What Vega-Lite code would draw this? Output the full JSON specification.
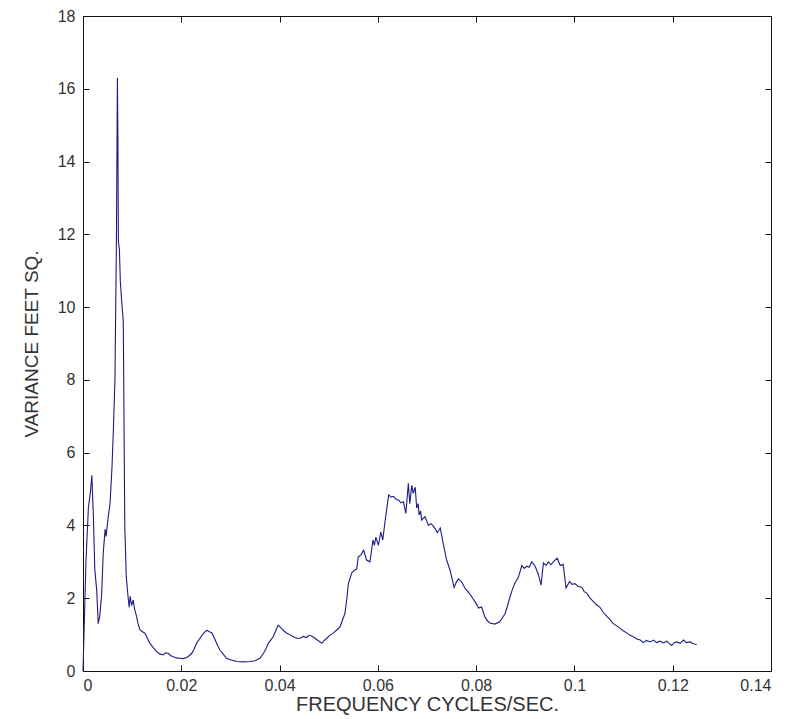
{
  "$schema": "https://vega.github.io/schema/vega-lite/v6.json",
  "width": 688,
  "height": 655,
  "autosize": "none",
  "padding": {"left": 83, "top": 16, "right": 20, "bottom": 48},
  "background": "white",
  "config": {
    "view": {"stroke": null},
    "axis": {
      "labelFont": "Liberation Sans",
      "titleFont": "Liberation Sans",
      "labelFontSize": 16,
      "titleFontSize": 19,
      "titleFontWeight": "normal",
      "labelColor": "#333333",
      "titleColor": "#333333",
      "domainColor": "#111111",
      "tickColor": "#111111",
      "grid": false
    }
  },
  "data": {
    "values": [
      {"f": 0.0, "v": 0.0}, {"f": 0.0002, "v": 1.0}, {"f": 0.0006, "v": 3.0}, {"f": 0.0011, "v": 4.5},
      {"f": 0.0015, "v": 4.9}, {"f": 0.0018, "v": 5.38}, {"f": 0.0021, "v": 4.3}, {"f": 0.0024, "v": 2.8},
      {"f": 0.0028, "v": 2.2}, {"f": 0.0031, "v": 1.3}, {"f": 0.0034, "v": 1.5}, {"f": 0.0038, "v": 2.1},
      {"f": 0.0041, "v": 3.2}, {"f": 0.0045, "v": 3.9}, {"f": 0.0047, "v": 3.7}, {"f": 0.0051, "v": 4.2},
      {"f": 0.0055, "v": 4.6}, {"f": 0.0059, "v": 5.6}, {"f": 0.0062, "v": 6.7}, {"f": 0.0065, "v": 8.0},
      {"f": 0.0068, "v": 11.8}, {"f": 0.0070, "v": 16.3}, {"f": 0.0071, "v": 14.7}, {"f": 0.0072, "v": 11.8},
      {"f": 0.0074, "v": 11.6}, {"f": 0.0076, "v": 10.7}, {"f": 0.0079, "v": 10.1}, {"f": 0.0082, "v": 9.6},
      {"f": 0.0085, "v": 4.0}, {"f": 0.0088, "v": 2.6}, {"f": 0.0092, "v": 2.0}, {"f": 0.0094, "v": 1.75},
      {"f": 0.0096, "v": 2.05}, {"f": 0.0099, "v": 1.8}, {"f": 0.0102, "v": 1.95}, {"f": 0.0105, "v": 1.7},
      {"f": 0.0109, "v": 1.5}, {"f": 0.0112, "v": 1.3}, {"f": 0.0116, "v": 1.13}, {"f": 0.0121, "v": 1.08},
      {"f": 0.0126, "v": 1.04}, {"f": 0.0131, "v": 0.9}, {"f": 0.0136, "v": 0.76}, {"f": 0.0143, "v": 0.64},
      {"f": 0.0150, "v": 0.53}, {"f": 0.0156, "v": 0.47}, {"f": 0.0163, "v": 0.44}, {"f": 0.0168, "v": 0.5},
      {"f": 0.0174, "v": 0.48}, {"f": 0.0179, "v": 0.42}, {"f": 0.0184, "v": 0.39}, {"f": 0.0190, "v": 0.36},
      {"f": 0.0197, "v": 0.35}, {"f": 0.0204, "v": 0.34}, {"f": 0.0211, "v": 0.37}, {"f": 0.0216, "v": 0.42},
      {"f": 0.0221, "v": 0.48}, {"f": 0.0226, "v": 0.6}, {"f": 0.0231, "v": 0.76}, {"f": 0.0237, "v": 0.88},
      {"f": 0.0242, "v": 0.98}, {"f": 0.0247, "v": 1.06}, {"f": 0.0252, "v": 1.12}, {"f": 0.0257, "v": 1.08},
      {"f": 0.0262, "v": 1.05}, {"f": 0.0269, "v": 0.85}, {"f": 0.0274, "v": 0.7}, {"f": 0.0279, "v": 0.57},
      {"f": 0.0286, "v": 0.45}, {"f": 0.0292, "v": 0.35}, {"f": 0.0302, "v": 0.3}, {"f": 0.0313, "v": 0.26},
      {"f": 0.0326, "v": 0.25}, {"f": 0.0340, "v": 0.26}, {"f": 0.0350, "v": 0.28}, {"f": 0.0360, "v": 0.35},
      {"f": 0.0367, "v": 0.48}, {"f": 0.0372, "v": 0.6}, {"f": 0.0377, "v": 0.76}, {"f": 0.0382, "v": 0.85},
      {"f": 0.0387, "v": 0.94}, {"f": 0.0392, "v": 1.1}, {"f": 0.0397, "v": 1.26}, {"f": 0.0404, "v": 1.17},
      {"f": 0.0409, "v": 1.1}, {"f": 0.0415, "v": 1.04}, {"f": 0.0421, "v": 1.0}, {"f": 0.0428, "v": 0.94},
      {"f": 0.0435, "v": 0.9}, {"f": 0.0442, "v": 0.9}, {"f": 0.0448, "v": 0.95}, {"f": 0.0455, "v": 0.92},
      {"f": 0.0460, "v": 0.98}, {"f": 0.0465, "v": 0.96}, {"f": 0.0472, "v": 0.9}, {"f": 0.0479, "v": 0.83},
      {"f": 0.0486, "v": 0.76}, {"f": 0.0491, "v": 0.84}, {"f": 0.0496, "v": 0.9}, {"f": 0.0502, "v": 0.98},
      {"f": 0.0509, "v": 1.04}, {"f": 0.0516, "v": 1.12}, {"f": 0.0523, "v": 1.21}, {"f": 0.0528, "v": 1.4},
      {"f": 0.0533, "v": 1.58}, {"f": 0.0537, "v": 2.0}, {"f": 0.0540, "v": 2.4}, {"f": 0.0547, "v": 2.7},
      {"f": 0.0552, "v": 2.77}, {"f": 0.0557, "v": 2.8}, {"f": 0.0560, "v": 3.13}, {"f": 0.0566, "v": 3.2},
      {"f": 0.0571, "v": 3.32}, {"f": 0.0577, "v": 3.05}, {"f": 0.0584, "v": 3.0}, {"f": 0.0590, "v": 3.6},
      {"f": 0.0593, "v": 3.45}, {"f": 0.0596, "v": 3.68}, {"f": 0.0601, "v": 3.45}, {"f": 0.0606, "v": 3.82},
      {"f": 0.0610, "v": 3.6}, {"f": 0.0615, "v": 4.15}, {"f": 0.0622, "v": 4.84}, {"f": 0.0627, "v": 4.78},
      {"f": 0.0632, "v": 4.8}, {"f": 0.0637, "v": 4.72}, {"f": 0.0642, "v": 4.7}, {"f": 0.0647, "v": 4.62},
      {"f": 0.0652, "v": 4.65}, {"f": 0.0657, "v": 4.33}, {"f": 0.0662, "v": 5.16}, {"f": 0.0665, "v": 4.6},
      {"f": 0.0669, "v": 5.1}, {"f": 0.0672, "v": 4.88}, {"f": 0.0676, "v": 5.05}, {"f": 0.0679, "v": 4.48},
      {"f": 0.0682, "v": 4.6}, {"f": 0.0684, "v": 4.29}, {"f": 0.0687, "v": 4.4}, {"f": 0.0689, "v": 4.15},
      {"f": 0.0696, "v": 4.24}, {"f": 0.0703, "v": 4.0}, {"f": 0.0708, "v": 4.05}, {"f": 0.0713, "v": 3.98},
      {"f": 0.0717, "v": 3.9}, {"f": 0.0721, "v": 3.8}, {"f": 0.0727, "v": 3.93}, {"f": 0.0733, "v": 3.5},
      {"f": 0.0740, "v": 3.05}, {"f": 0.0747, "v": 2.77}, {"f": 0.0755, "v": 2.3}, {"f": 0.0760, "v": 2.45},
      {"f": 0.0764, "v": 2.53}, {"f": 0.0771, "v": 2.44}, {"f": 0.0777, "v": 2.28}, {"f": 0.0782, "v": 2.2},
      {"f": 0.0788, "v": 2.1}, {"f": 0.0793, "v": 2.0}, {"f": 0.0798, "v": 1.9}, {"f": 0.0805, "v": 1.73},
      {"f": 0.0811, "v": 1.76}, {"f": 0.0818, "v": 1.48}, {"f": 0.0823, "v": 1.38}, {"f": 0.0828, "v": 1.32},
      {"f": 0.0838, "v": 1.29}, {"f": 0.0848, "v": 1.35}, {"f": 0.0853, "v": 1.45}, {"f": 0.0859, "v": 1.58},
      {"f": 0.0864, "v": 1.8}, {"f": 0.0869, "v": 2.04}, {"f": 0.0874, "v": 2.25}, {"f": 0.0879, "v": 2.42},
      {"f": 0.0886, "v": 2.58}, {"f": 0.0893, "v": 2.9}, {"f": 0.0898, "v": 2.82}, {"f": 0.0903, "v": 2.88},
      {"f": 0.0908, "v": 2.85}, {"f": 0.0913, "v": 3.0}, {"f": 0.0920, "v": 2.88}, {"f": 0.0927, "v": 2.64},
      {"f": 0.0932, "v": 2.36}, {"f": 0.0937, "v": 2.97}, {"f": 0.0942, "v": 2.9}, {"f": 0.0947, "v": 3.0},
      {"f": 0.0952, "v": 2.92}, {"f": 0.0957, "v": 3.0}, {"f": 0.0965, "v": 3.1}, {"f": 0.0971, "v": 2.9},
      {"f": 0.0977, "v": 2.93}, {"f": 0.0983, "v": 2.28}, {"f": 0.0990, "v": 2.46}, {"f": 0.0995, "v": 2.38},
      {"f": 0.1001, "v": 2.4}, {"f": 0.1008, "v": 2.32}, {"f": 0.1015, "v": 2.3}, {"f": 0.1020, "v": 2.18},
      {"f": 0.1025, "v": 2.14}, {"f": 0.1032, "v": 2.0}, {"f": 0.1039, "v": 1.9}, {"f": 0.1045, "v": 1.82},
      {"f": 0.1052, "v": 1.75}, {"f": 0.1059, "v": 1.6}, {"f": 0.1066, "v": 1.5}, {"f": 0.1072, "v": 1.42},
      {"f": 0.1079, "v": 1.3}, {"f": 0.1086, "v": 1.24}, {"f": 0.1093, "v": 1.17}, {"f": 0.1100, "v": 1.1},
      {"f": 0.1107, "v": 1.04}, {"f": 0.1113, "v": 0.98}, {"f": 0.1120, "v": 0.94}, {"f": 0.1127, "v": 0.88},
      {"f": 0.1134, "v": 0.85}, {"f": 0.1140, "v": 0.78}, {"f": 0.1147, "v": 0.84}, {"f": 0.1154, "v": 0.8},
      {"f": 0.1161, "v": 0.85}, {"f": 0.1167, "v": 0.78}, {"f": 0.1174, "v": 0.82}, {"f": 0.1181, "v": 0.77},
      {"f": 0.1188, "v": 0.82}, {"f": 0.1193, "v": 0.75}, {"f": 0.1198, "v": 0.7}, {"f": 0.1203, "v": 0.78},
      {"f": 0.1208, "v": 0.8}, {"f": 0.1215, "v": 0.76}, {"f": 0.1222, "v": 0.85}, {"f": 0.1228, "v": 0.78},
      {"f": 0.1235, "v": 0.8}, {"f": 0.1242, "v": 0.75}, {"f": 0.1249, "v": 0.73}
    ]
  },
  "layer": [
    {
      "mark": {"type": "line", "color": "#1c1c86", "strokeWidth": 1.1, "interpolate": "linear"},
      "encoding": {
        "x": {
          "field": "f", "type": "quantitative",
          "scale": {"domain": [0, 0.14], "nice": false, "zero": false},
          "axis": {
            "orient": "bottom",
            "title": "FREQUENCY CYCLES/SEC.",
            "titleFontSize": 20,
            "values": [0, 0.02, 0.04, 0.06, 0.08, 0.1, 0.12, 0.14],
            "format": "~g",
            "tickSize": -6,
            "labelPadding": 12,
            "titlePadding": 1
          }
        },
        "y": {
          "field": "v", "type": "quantitative",
          "scale": {"domain": [0, 18], "nice": false},
          "axis": {
            "orient": "left",
            "title": "VARIANCE FEET SQ.",
            "values": [0, 2, 4, 6, 8, 10, 12, 14, 16, 18],
            "tickSize": -6,
            "labelPadding": 14,
            "titlePadding": 16
          }
        }
      }
    },
    {
      "mark": {"type": "line", "opacity": 0},
      "encoding": {
        "x": {
          "field": "f", "type": "quantitative",
          "scale": {"domain": [0, 0.14], "nice": false, "zero": false},
          "axis": {"orient": "top", "title": null, "labels": false, "values": [0, 0.02, 0.04, 0.06, 0.08, 0.1, 0.12, 0.14], "tickSize": -6}
        },
        "y": {
          "field": "v", "type": "quantitative",
          "scale": {"domain": [0, 18], "nice": false},
          "axis": {"orient": "right", "title": null, "labels": false, "values": [0, 2, 4, 6, 8, 10, 12, 14, 16, 18], "tickSize": -6}
        }
      }
    }
  ],
  "resolve": {"axis": {"x": "independent", "y": "independent"}}
}
